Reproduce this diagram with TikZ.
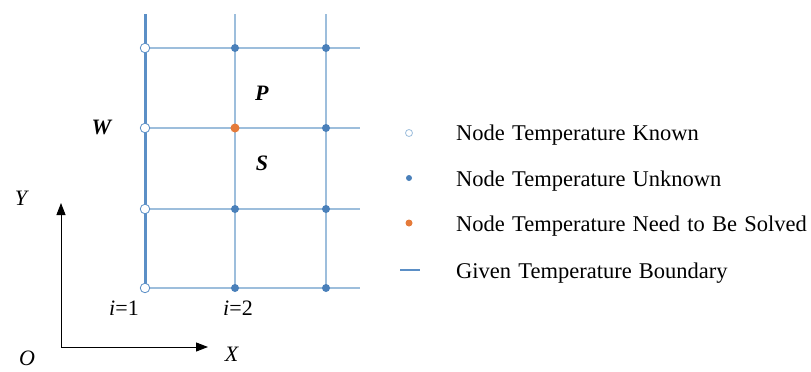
\documentclass[tikz,border=0pt]{standalone}
\usepackage{fontspec}
\setmainfont{Liberation Serif}
\newfontfamily\timesfont{Liberation Serif}
\usetikzlibrary{arrows.meta}
\definecolor{gridblue}{HTML}{9DBEDC}
\definecolor{bndblue}{HTML}{5B8FC6}
\definecolor{dotblue}{HTML}{4A80BA}
\definecolor{solveorange}{HTML}{E57B3A}
\newcommand\mylegfont{\timesfont\fontsize{22.5}{24}\selectfont\spaceskip=0.32em plus 0.05em\relax}
\tikzset{
  gridline/.style={draw=gridblue, line width=1.2pt},
  bndline/.style={draw=bndblue, line width=3pt},
  known/.style={circle, draw=bndblue, fill=white, line width=0.8pt, minimum size=9.5pt, inner sep=0pt},
  unknown/.style={circle, fill=dotblue, minimum size=8pt, inner sep=0pt},
  solve/.style={circle, fill=solveorange, minimum size=9pt, inner sep=0pt},
  lbl/.style={font=\timesfont\fontsize{22}{24}\selectfont, inner sep=0pt},
  leg/.style={font=\mylegfont, anchor=base west, inner sep=0pt},
  axis/.style={draw=black, line width=1pt, -{Triangle[length=12pt,width=9pt]}}
}
\begin{document}
\begin{tikzpicture}[x=1pt,y=-1pt]
\useasboundingbox (0,0) rectangle (811,372);
% end coordinates
\coordinate (b1) at (145,14);
\coordinate (b2) at (145,289);
\coordinate (t2) at (235,14);
\coordinate (t3) at (326,14);
\coordinate (e1) at (360,48);
\coordinate (e2) at (360,128);
\coordinate (e3) at (360,209);
\coordinate (e4) at (360,288);
% grid lines
\draw[gridline] (t2) -- (235,289);
\draw[gridline] (t3) -- (326,289);
\draw[gridline] (145,48) -- (e1);
\draw[gridline] (145,128) -- (e2);
\draw[gridline] (145,209) -- (e3);
\draw[gridline] (145,288) -- (e4);
\draw[bndline] (b1) -- (b2);
% nodes
\node[known] (k1) at (145,48) {};
\node[known] (k2) at (145,128) {};
\node[known] (k3) at (145,209) {};
\node[known] (k4) at (145,288) {};
\node[unknown] (u21) at (235,48) {};
\node[solve] (s22) at (235,128) {};
\node[unknown] (u23) at (235,209) {};
\node[unknown] (u24) at (235,288) {};
\node[unknown] (u31) at (326,48) {};
\node[unknown] (u32) at (326,128) {};
\node[unknown] (u33) at (326,209) {};
\node[unknown] (u34) at (326,288) {};
% labels
\node[lbl, anchor=base] (P) at (262,100) {\textbf{\textit{P}}};
\node[lbl, anchor=base] (S) at (262,170) {\textbf{\textit{S}}};
\node[lbl, anchor=base] (W) at (102,134) {\textbf{\textit{W}}};
\node[lbl, anchor=base] (i1) at (124,315) {\textit{i}=1};
\node[lbl, anchor=base] (i2) at (238,315) {\textit{i}=2};
% axes
\coordinate (O0) at (61,347);
\coordinate (Ytip) at (61,203);
\coordinate (Xtip) at (208,347);
\draw[axis] (O0) -- (Ytip);
\draw[axis] (O0) -- (Xtip);
\node[lbl, anchor=base] (Y) at (22,205) {\textit{Y}};
\node[lbl, anchor=base] (X) at (232,361.5) {\textit{X}};
\node[lbl, anchor=base] (O) at (27,365) {\textit{O}};
% legend
\node[circle, draw=gridblue, fill=white, line width=0.8pt, minimum size=7pt, inner sep=0pt] (lk) at (409,133) {};
\node[circle, fill=dotblue, minimum size=6pt, inner sep=0pt] (lu) at (409,178) {};
\node[circle, fill=solveorange, minimum size=7pt, inner sep=0pt] (ls) at (409,223) {};
\coordinate (lb1) at (400,270);
\coordinate (lb2) at (420,270);
\draw[draw=bndblue, line width=2.5pt] (lb1) -- (lb2);
\node[leg] (t1) at (456,140) {Node Temperature Known};
\node[leg] (t2l) at (456,186) {Node Temperature Unknown};
\node[leg] (t3l) at (456,231) {Node Temperature Need to Be Solved};
\node[leg] (t4l) at (456,278) {Given Temperature Boundary};
\end{tikzpicture}
\end{document}
